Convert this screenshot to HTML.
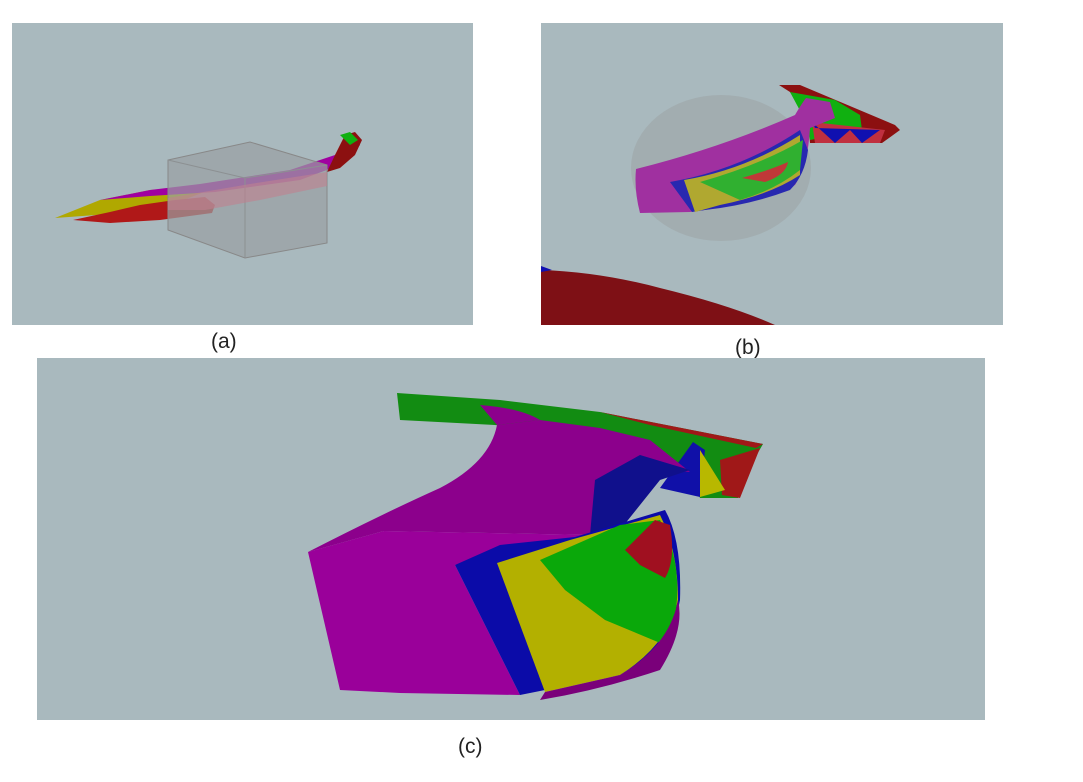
<!DOCTYPE html>
<html><head><meta charset="utf-8"><style>
html,body{margin:0;padding:0;background:#fff;width:1083px;height:782px;overflow:hidden}
svg{display:block}
text{font-family:"Liberation Sans",sans-serif;font-size:21px;fill:#222}
</style></head><body>
<svg width="1083" height="782" viewBox="0 0 1083 782">
<!-- Panel a -->
<g>
<rect x="12" y="23" width="461" height="302" fill="#a9b9be"/>
<path d="M55,218 L100,200 L150,190 L200,186 L215,188 L170,205 L110,214 Z" fill="#b0a800"/>
<path d="M100,200 L150,190 L200,184 L290,170 L335,155 L345,140 L352,135 L360,145 L340,165 L300,180 L215,192 L150,196 Z" fill="#a000a0"/>
<path d="M73,220 L110,212 L140,205 L175,200 L205,197 L215,205 L212,213 L160,220 L110,223 Z" fill="#b01818"/>
<path d="M335,155 L345,135 L355,132 L362,140 L355,155 L340,168 L327,172 Z" fill="#8c1010"/>
<path d="M340,135 L350,132 L358,140 L350,145 Z" fill="#10b010"/>
<path d="M168,160 L250,142 L327,165 L327,243 L245,258 L168,230 Z" fill="#9aa0a2" fill-opacity="0.7" stroke="#888" stroke-width="1"/>
<path d="M168,160 L245,178 L327,165 M245,178 L245,258" fill="none" stroke="#8c9092" stroke-width="1"/>
<path d="M168,198 L250,184 L327,172 L327,186 L260,200 L205,210 L168,210 Z" fill="#c08090" fill-opacity="0.6"/>
</g>
<text x="211" y="348">(a)</text>
<!-- Panel b -->
<g>
<rect x="541" y="23" width="462" height="302" fill="#a9b9be"/>
<path d="M541,270 Q600,272 660,288 Q730,305 775,325 L541,325 Z" fill="#7e1015"/>
<path d="M541,266 L552,270 L541,272 Z" fill="#1010b0"/>
<ellipse cx="721" cy="168" rx="90" ry="73" fill="#a0a8aa" fill-opacity="0.7"/>
<path d="M779,85 L800,85 L895,125 L900,130 L882,143 L810,143 L808,120 L790,92 Z" fill="#8c1010"/>
<path d="M790,92 L835,100 L860,115 L862,130 L810,140 L805,120 Z" fill="#10b010"/>
<path d="M812,122 L885,130 L880,143 L815,143 Z" fill="#c03040"/>
<path d="M812,122 L835,143 L850,130 L862,143 L880,130 L815,128 Z" fill="#1010b0"/>
<path d="M636,169 Q720,148 795,115 Q802,103 806,98 L830,102 L835,118 L810,128 Q808,165 795,185 Q760,203 690,212 L640,213 Q634,190 636,169 Z" fill="#a030a0"/>
<path d="M670,182 Q740,170 800,130 L808,150 Q805,175 790,190 Q750,205 705,210 L692,212 Z" fill="#2828b0"/>
<path d="M684,180 Q745,170 800,135 L800,175 Q770,195 720,205 L695,212 Z" fill="#b0a830"/>
<path d="M700,182 Q760,165 803,140 L800,170 Q775,190 740,200 Z" fill="#30b030"/>
<path d="M742,178 Q770,170 788,162 Q786,175 765,182 Z" fill="#c03838"/>
</g>
<text x="735" y="354">(b)</text>
<!-- Panel c -->
<g>
<rect x="37" y="358" width="948" height="362" fill="#a9b9be"/>
<path d="M397,393 L500,400 L600,412 L763,444 L745,475 L738,498 L700,498 L690,472 L610,440 L540,430 L495,425 L400,420 Z" fill="#128c12"/>
<path d="M600,412 L763,444 L756,448 L650,425 Z" fill="#a01818"/>
<path d="M720,460 L760,448 L740,498 L722,495 Z" fill="#a01818"/>
<path d="M693,442 L705,450 L700,497 L660,488 Z" fill="#1010a8"/>
<path d="M700,450 L725,490 L700,497 Z" fill="#b8b800"/>
<path d="M480,405 Q520,408 540,420 L497,425 Z" fill="#8c008c"/>
<path d="M497,425 Q490,462 440,488 Q380,515 308,552 L384,531 L590,535 L640,500 L660,470 L690,472 L650,440 L600,428 L540,420 Z" fill="#8c008c"/>
<path d="M595,480 L640,455 L690,470 L660,480 L620,530 L590,535 Z" fill="#10108c"/>
<path d="M308,552 L384,531 L590,535 L560,548 L455,565 L520,695 L400,693 L340,690 Z" fill="#9a009a"/>
<path d="M455,565 L500,545 L575,537 L665,510 Q682,540 680,600 Q672,645 620,675 L545,690 L520,695 Z" fill="#0b0ba8"/>
<path d="M497,563 L570,540 L660,515 Q678,550 678,600 Q668,645 620,675 L545,692 Z" fill="#b3b000"/>
<path d="M540,560 L620,525 L660,520 Q682,560 676,610 Q672,635 665,645 L605,620 L565,590 Z" fill="#0aa80a"/>
<path d="M625,550 L655,520 L670,525 Q676,560 665,578 L640,565 Z" fill="#a01020"/>
<path d="M545,692 L620,675 Q670,645 678,600 Q685,630 660,670 Q600,690 540,700 Z" fill="#7a007a"/>
</g>
<text x="458" y="753">(c)</text>
</svg>
</body></html>
